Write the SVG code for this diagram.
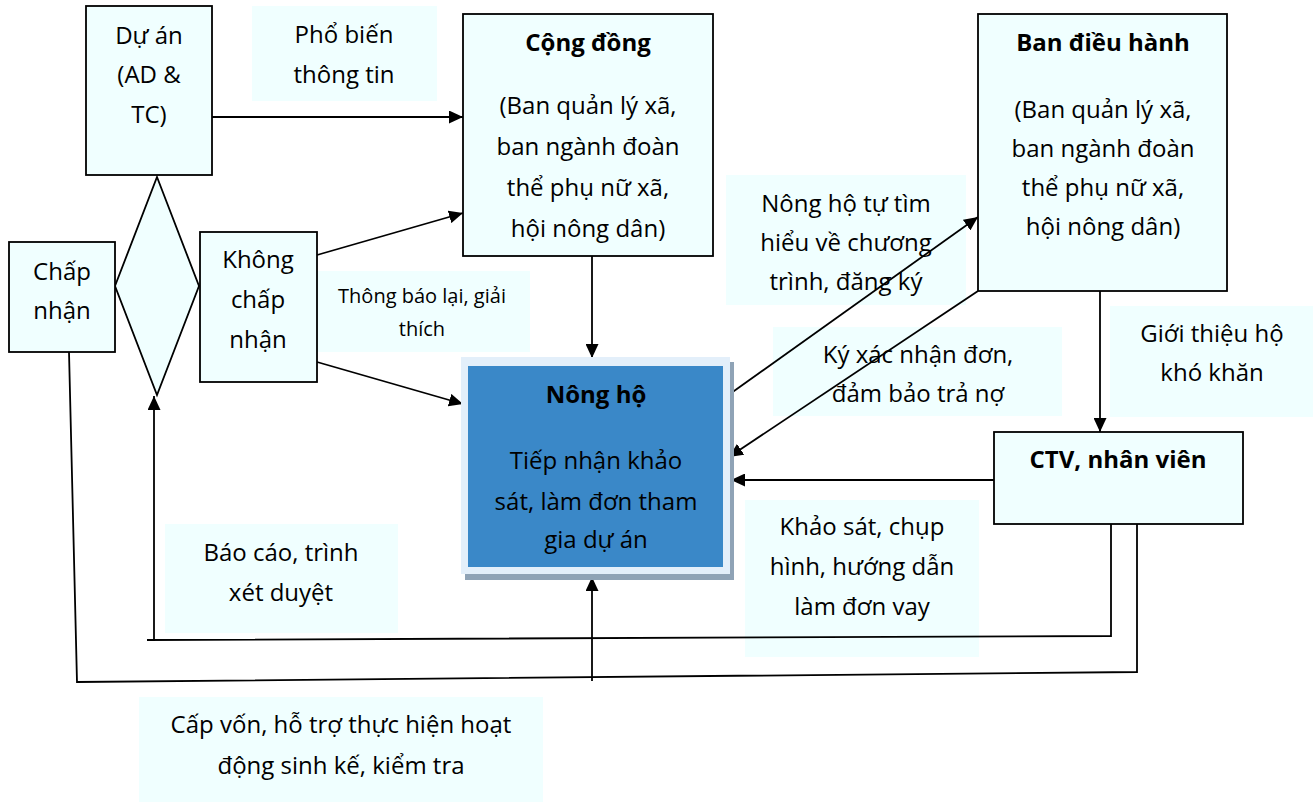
<svg xmlns="http://www.w3.org/2000/svg" width="1316" height="802" viewBox="0 0 1316 802">
  <style>
    text { font-family: "Open Sans", "Noto Sans", "Liberation Sans", sans-serif; font-size: 24px; fill: #000; text-anchor: middle; }
    .b { font-weight: bold; }
    .sm { font-size: 20px; }
    .node { fill: #F0FFFF; stroke: #000; stroke-width: 1.8; }
    .lbl { fill: #F0FFFF; stroke: none; }
    .wire { fill: none; stroke: #000; stroke-width: 1.8; }
    .arr { fill: none; stroke: #000; stroke-width: 1.8; marker-end: url(#head); }
  </style>
  <defs>
    <marker id="head" markerUnits="userSpaceOnUse" markerWidth="15" markerHeight="13" refX="14" refY="6.5" orient="auto">
      <path d="M0,0 L14,6.5 L0,13 z" fill="#000"/>
    </marker>
  </defs>
  <rect width="1316" height="802" fill="#fff"/>

  <!-- edge labels (plain tinted boxes) -->
  <g id="labels">
    <rect class="lbl" x="252" y="6" width="185" height="95"/>
    <text x="344" y="43">Phổ biến</text>
    <text x="344" y="83">thông tin</text>

    <rect class="lbl" x="317" y="271" width="213" height="81"/>
    <text class="sm" x="422" y="303">Thông báo lại, giải</text>
    <text class="sm" x="422" y="336">thích</text>

    <rect class="lbl" x="726" y="175" width="240" height="130"/>
    <text x="846" y="212">Nông hộ tự tìm</text>
    <text x="846" y="251">hiểu về chương</text>
    <text x="846" y="290">trình, đăng ký</text>

    <rect class="lbl" x="773" y="327" width="289" height="89"/>
    <text x="918" y="363">Ký xác nhận đơn,</text>
    <text x="918" y="402">đảm bảo trả nợ</text>

    <rect class="lbl" x="1110" y="306" width="203" height="111"/>
    <text x="1212" y="342">Giới thiệu hộ</text>
    <text x="1212" y="381">khó khăn</text>

    <rect class="lbl" x="745" y="500" width="234" height="157"/>
    <text x="862" y="535">Khảo sát, chụp</text>
    <text x="862" y="575">hình, hướng dẫn</text>
    <text x="862" y="615">làm đơn vay</text>

    <rect class="lbl" x="165" y="524" width="233" height="109"/>
    <text x="281" y="561">Báo cáo, trình</text>
    <text x="281" y="601">xét duyệt</text>

    <rect class="lbl" x="139" y="697" width="404" height="105"/>
    <text x="341" y="733">Cấp vốn, hỗ trợ thực hiện hoạt</text>
    <text x="341" y="774">động sinh kế, kiểm tra</text>
  </g>

  <!-- connectors -->
  <g id="connectors">
    <line class="arr" x1="212" y1="117" x2="463" y2="117"/>
    <line class="arr" x1="317" y1="255" x2="463" y2="213"/>
    <line class="arr" x1="317" y1="362" x2="463" y2="404"/>
    <line class="arr" x1="592" y1="256" x2="592" y2="358"/>
    <line class="arr" x1="727" y1="396" x2="978" y2="217"/>
    <line class="arr" x1="978" y1="291" x2="729" y2="457"/>
    <line class="arr" x1="1100" y1="291" x2="1100" y2="432"/>
    <line class="arr" x1="994" y1="480" x2="731" y2="480"/>
    <polyline class="wire" points="1111,524 1111,636 147,640"/>
    <line class="arr" x1="154" y1="640" x2="154" y2="396"/>
    <polyline class="wire" points="1137,524 1137,672 77,682 69,352"/>
    <line class="arr" x1="592" y1="681" x2="592" y2="577"/>
  </g>

  <g id="du-an">
    <rect class="node" x="86" y="6" width="126" height="169"/>
    <text x="149" y="44">Dự án</text>
    <text x="149" y="83">(AD &amp;</text>
    <text x="149" y="123">TC)</text>
  </g>

  <g id="quyet-dinh">
    <polygon class="node" points="157,177 199,286 157,395 115,286"/>
  </g>

  <g id="chap-nhan">
    <rect class="node" x="9" y="242" width="106" height="110"/>
    <text x="62" y="280">Chấp</text>
    <text x="62" y="319">nhận</text>
  </g>

  <g id="khong-chap-nhan">
    <rect class="node" x="200" y="232" width="117" height="150"/>
    <text x="258" y="268">Không</text>
    <text x="258" y="308">chấp</text>
    <text x="258" y="348">nhận</text>
  </g>

  <g id="cong-dong">
    <rect class="node" x="463" y="14" width="250" height="242"/>
    <text class="b" x="588" y="51">Cộng đồng</text>
    <text x="588" y="114">(Ban quản lý xã,</text>
    <text x="588" y="155">ban ngành đoàn</text>
    <text x="588" y="196">thể phụ nữ xã,</text>
    <text x="588" y="237">hội nông dân)</text>
  </g>

  <g id="ban-dieu-hanh">
    <rect class="node" x="978" y="14" width="249" height="277"/>
    <text class="b" x="1103" y="51">Ban điều hành</text>
    <text x="1103" y="118">(Ban quản lý xã,</text>
    <text x="1103" y="157">ban ngành đoàn</text>
    <text x="1103" y="196">thể phụ nữ xã,</text>
    <text x="1103" y="235">hội nông dân)</text>
  </g>

  <g id="ctv">
    <rect class="node" x="994" y="432" width="249" height="92"/>
    <text class="b" x="1118" y="468">CTV, nhân viên</text>
  </g>

  <g id="nong-ho">
    <rect x="465" y="362" width="269" height="218" fill="#8FA3B6"/>
    <rect x="461" y="357" width="269" height="217" fill="#E3EFFA"/>
    <rect x="468" y="366" width="255" height="201" fill="#3A88C8"/>
    <text class="b" x="596" y="403">Nông hộ</text>
    <text x="596" y="469">Tiếp nhận khảo</text>
    <text x="596" y="510">sát, làm đơn tham</text>
    <text x="596" y="548">gia dự án</text>
  </g>
</svg>
